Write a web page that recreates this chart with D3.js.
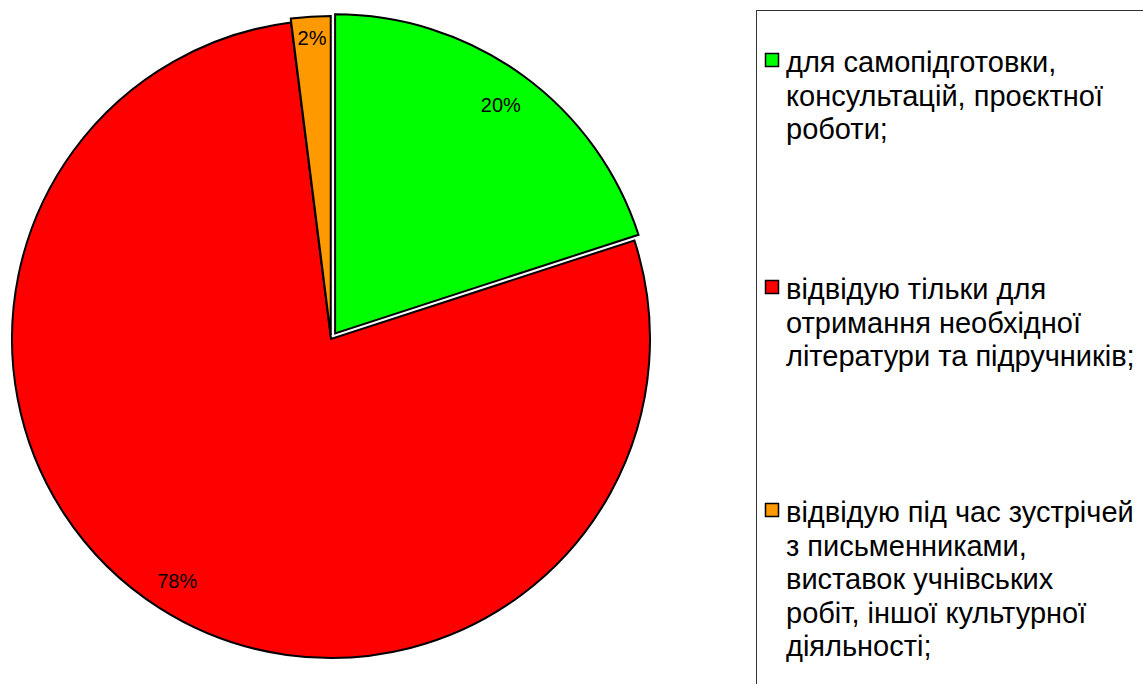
<!DOCTYPE html>
<html>
<head>
<meta charset="utf-8">
<script src="https://cdn.jsdelivr.net/npm/d3@7"></script>
<style>
  body { margin: 0; background: #fff; }
  svg { display: block; font-family: "Liberation Sans", Arial, sans-serif; }
</style>
</head>
<body>
<div id="chart"></div>
<script>
// data
const categories = [
    ["для самопідготовки,", "консультацій, проєктної", "роботи;"],
    ["відвідую тільки для", "отримання необхідної", "літератури та підручників;"],
    ["відвідую під час зустрічей", "з письменниками,", "виставок учнівських", "робіт, іншої культурної", "діяльності;"]
];
const values = [20, 78, 2];
const colors = ["#00ff00", "#ff0000", "#ff9900"];

const width = 1143, height = 684;
const cx = 331, cy = 339, radius = 319;
const explode = [7, 0, 4];
const labelR = [282, 287, 298];

const svg = d3.select("#chart").append("svg")
    .attr("width", width)
    .attr("height", height);

const pie = d3.pie().sort(null).value(d => d);
const arcs = pie(values);
const arc = d3.arc().innerRadius(0).outerRadius(radius);

const g = svg.append("g").attr("transform", `translate(${cx},${cy})`);

const slices = g.selectAll("g.slice")
    .data(arcs)
    .join("g")
    .attr("class", "slice")
    .attr("transform", (d, i) => {
        const a = (d.startAngle + d.endAngle) / 2;
        return `translate(${Math.sin(a) * explode[i]},${-Math.cos(a) * explode[i]})`;
    });

slices.append("path")
    .attr("d", arc)
    .attr("fill", (d, i) => colors[i])
    .attr("stroke", "#000")
    .attr("stroke-width", 2)
    .attr("stroke-linejoin", "miter");

// percentage labels
slices.append("text")
    .attr("x", (d, i) => Math.sin((d.startAngle + d.endAngle) / 2) * labelR[i])
    .attr("y", (d, i) => -Math.cos((d.startAngle + d.endAngle) / 2) * labelR[i])
    .attr("text-anchor", "middle")
    .attr("dominant-baseline", "central")
    .attr("font-size", "20px")
    .text(d => d.data + "%");

// Legend
svg.append("rect")
    .attr("x", 756.5).attr("y", 10.5)
    .attr("width", 500).attr("height", 700)
    .attr("fill", "none")
    .attr("stroke", "#333")
    .attr("stroke-width", 1);

const entryY = [72, 299, 522];
const lineH = 33.5;

const legend = svg.append("g").selectAll("g")
    .data(categories)
    .join("g")
    .attr("transform", (d, i) => `translate(765,${entryY[i]})`);

legend.append("rect")
    .attr("x", 0.5).attr("y", -18.5)
    .attr("width", 13).attr("height", 13)
    .attr("fill", (d, i) => colors[i])
    .attr("stroke", "#000")
    .attr("stroke-width", 1.5);

legend.append("text")
    .attr("x", 21)
    .attr("font-size", "29px")
    .attr("fill", "#000")
    .selectAll("tspan")
    .data(d => d)
    .join("tspan")
    .attr("x", 21)
    .attr("y", (d, i) => i * lineH)
    .text(d => d);
</script>
</body>
</html>
